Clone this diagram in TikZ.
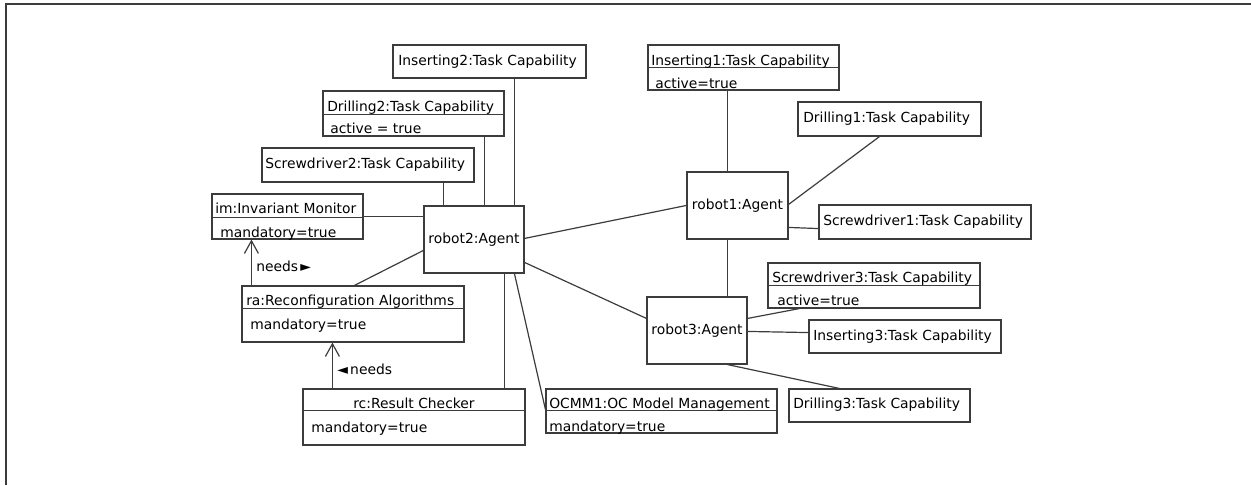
\documentclass[tikz,border=0pt]{standalone}
\usepackage{fontspec}
\setmainfont{DejaVu Sans}
\usetikzlibrary{calc,arrows.meta}

\definecolor{edge}{RGB}{60,60,60}

\tikzset{
  x=0.75pt, y=-0.75pt,
  boxline/.style={draw=edge, line width=0.85pt},
  objbox/.style={boxline, rectangle, inner sep=0pt, fill=white},
  txt/.style={inner sep=0pt, anchor=west, text height=0.75em, text depth=0.2em,
              yshift=-1.1pt, font=\fontsize{10.4pt}{12pt}\selectfont},
  link/.style={draw=edge, line width=0.9pt},
  needs/.style={link, -{Straight Barb[length=9.5pt,width=10.5pt,line width=0.9pt]}},
  frameline/.style={draw=edge, line width=0.9pt}
}

% box with corners (x1,y1)-(x2,y2) in pixel units: [text]{name}{x1}{y1}{x2}{y2}
\newcommand\objnode[6][]{%
  \node[objbox, minimum width={(#5-#3)*0.75pt}, minimum height={(#6-#4)*0.75pt},
        font=\fontsize{10.4pt}{12pt}\selectfont]
    (#2) at ({(#3+#5)/2},{(#4+#6)/2}) {#1};}
% horizontal compartment line, given its distance from the box top
\newcommand\objdiv[2]{%
  \draw[boxline] ($(#1.north west)+(0,#2)$) -- ($(#1.north east)+(0,#2)$);}

\begin{document}
\begin{tikzpicture}
\useasboundingbox (0,0) rectangle (1251,485);
\draw[frameline] (6,485) -- (6,4) -- (1251,4);

% ---- object boxes ----
\objnode{ins2}{393}{45}{586}{78}
\objnode{dri2}{323}{91}{504}{136}
\objnode{scr2}{262}{148}{474}{182}
\objnode{im}{212}{194}{363}{239}
\objnode{ra}{242}{286}{464}{342}
\objnode{rc}{303}{389}{525}{445}
\objnode{ocmm}{546}{389}{777}{433}
\objnode[robot2:Agent]{robot2}{424}{206}{524}{273}
\objnode[robot1:Agent]{robot1}{687}{172}{788}{239}
\objnode[robot3:Agent]{robot3}{647}{297}{747}{364}
\objnode{ins1}{648}{45}{839}{90}
\objnode{dri1}{798}{102}{981}{136}
\objnode{scr1}{819}{205}{1031}{239}
\objnode{scr3}{768}{263}{980}{308}
\objnode{ins3}{809}{320}{1001}{353}
\objnode{dri3}{789}{389}{970}{422}

\objdiv{dri2}{24}
\objdiv{im}{24}
\objdiv{ra}{23}
\objdiv{rc}{22}
\objdiv{ocmm}{22}
\objdiv{ins1}{23}
\objdiv{scr3}{23}

% ---- texts ----
\node[txt] (ins2-h) at (398,60) {Inserting2:Task Capability};
\node[txt] (dri2-h) at (327,106) {Drilling2:Task Capability};
\node[txt] (dri2-a) at (330,128) {active = true};
\node[txt] (scr2-h) at (265,163) {Screwdriver2:Task Capability};
\node[txt] (im-h) at (215,208) {im:Invariant Monitor};
\node[txt] (im-a) at (220,232) {mandatory=true};
\node[txt] (ra-h) at (246,300) {ra:Reconfiguration Algorithms};
\node[txt] (ra-a) at (250,324) {mandatory=true};
\node[txt, anchor=center] (rc-h) at (414,403) {rc:Result Checker};
\node[txt] (rc-a) at (311,427) {mandatory=true};
\node[txt] (ocmm-h) at (549,403) {OCMM1:OC Model Management};
\node[txt] (ocmm-a) at (549,426) {mandatory=true};
\node[txt] (ins1-h) at (651,60) {Inserting1:Task Capability};
\node[txt] (ins1-a) at (655,83) {active=true};
\node[txt] (dri1-h) at (803,117) {Drilling1:Task Capability};
\node[txt] (scr1-h) at (823,220) {Screwdriver1:Task Capability};
\node[txt] (scr3-h) at (772,277) {Screwdriver3:Task Capability};
\node[txt] (scr3-a) at (777,300) {active=true};
\node[txt] (ins3-h) at (813,335) {Inserting3:Task Capability};
\node[txt] (dri3-h) at (793,403) {Drilling3:Task Capability};

% ---- links of robot2 ----
\draw[link] (im.east) -- (im.east -| robot2.west);
\draw[link] ($(scr2.south west)+(182,0)$) -- ($(robot2.north west)+(20,0)$);
\draw[link] ($(dri2.south west)+(162,0)$) -- ($(robot2.north west)+(61,0)$);
\draw[link] ($(ins2.south west)+(122,0)$) -- ($(robot2.north west)+(91,0)$);
\draw[link] ($(robot2.north west)+(0,45)$) -- ($(ra.north west)+(113,0)$);
\draw[link] ($(robot2.south west)+(81,0)$) -- ($(rc.north west)+(202,0)$);
\draw[link] ($(robot2.south west)+(91,0)$) -- ($(ocmm.north west)+(0,21)$);
\draw[link] ($(robot2.north east)+(0,33)$) -- ($(robot1.north west)+(0,34)$);
\draw[link] ($(robot2.north east)+(0,57)$) -- ($(robot3.north west)+(0,22)$);

% ---- dependencies ----
\draw[needs] ($(ra.north west)+(10,0)$) -- ($(im.south west)+(40,0)$);
\node[txt] (needs1) at (256,266) {needs\,►};
\draw[needs] ($(rc.north west)+(30,0)$) -- ($(ra.south west)+(91,0)$);
\node[txt] (needs2) at (337,369) {◄\,needs};

% ---- links of robot1 ----
\draw[link] ($(robot1.north west)+(41,0)$) -- ($(ins1.south west)+(80,0)$);
\draw[link] ($(robot1.north east)+(0,33)$) -- ($(dri1.south west)+(82,0)$);
\draw[link] ($(robot1.north east)+(0,56)$) -- ($(scr1.south west)+(0,-11)$);
\draw[link] ($(robot1.south west)+(41,0)$) -- ($(robot3.north west)+(81,0)$);

% ---- links of robot3 ----
\draw[link] ($(robot3.north east)+(0,22)$) -- ($(scr3.south west)+(32,0)$);
\draw[link] ($(robot3.north east)+(0,35)$) -- ($(ins3.south west)+(0,-21)$);
\draw[link] ($(robot3.south west)+(81,0)$) -- ($(dri3.north west)+(51,0)$);
\end{tikzpicture}
\end{document}
